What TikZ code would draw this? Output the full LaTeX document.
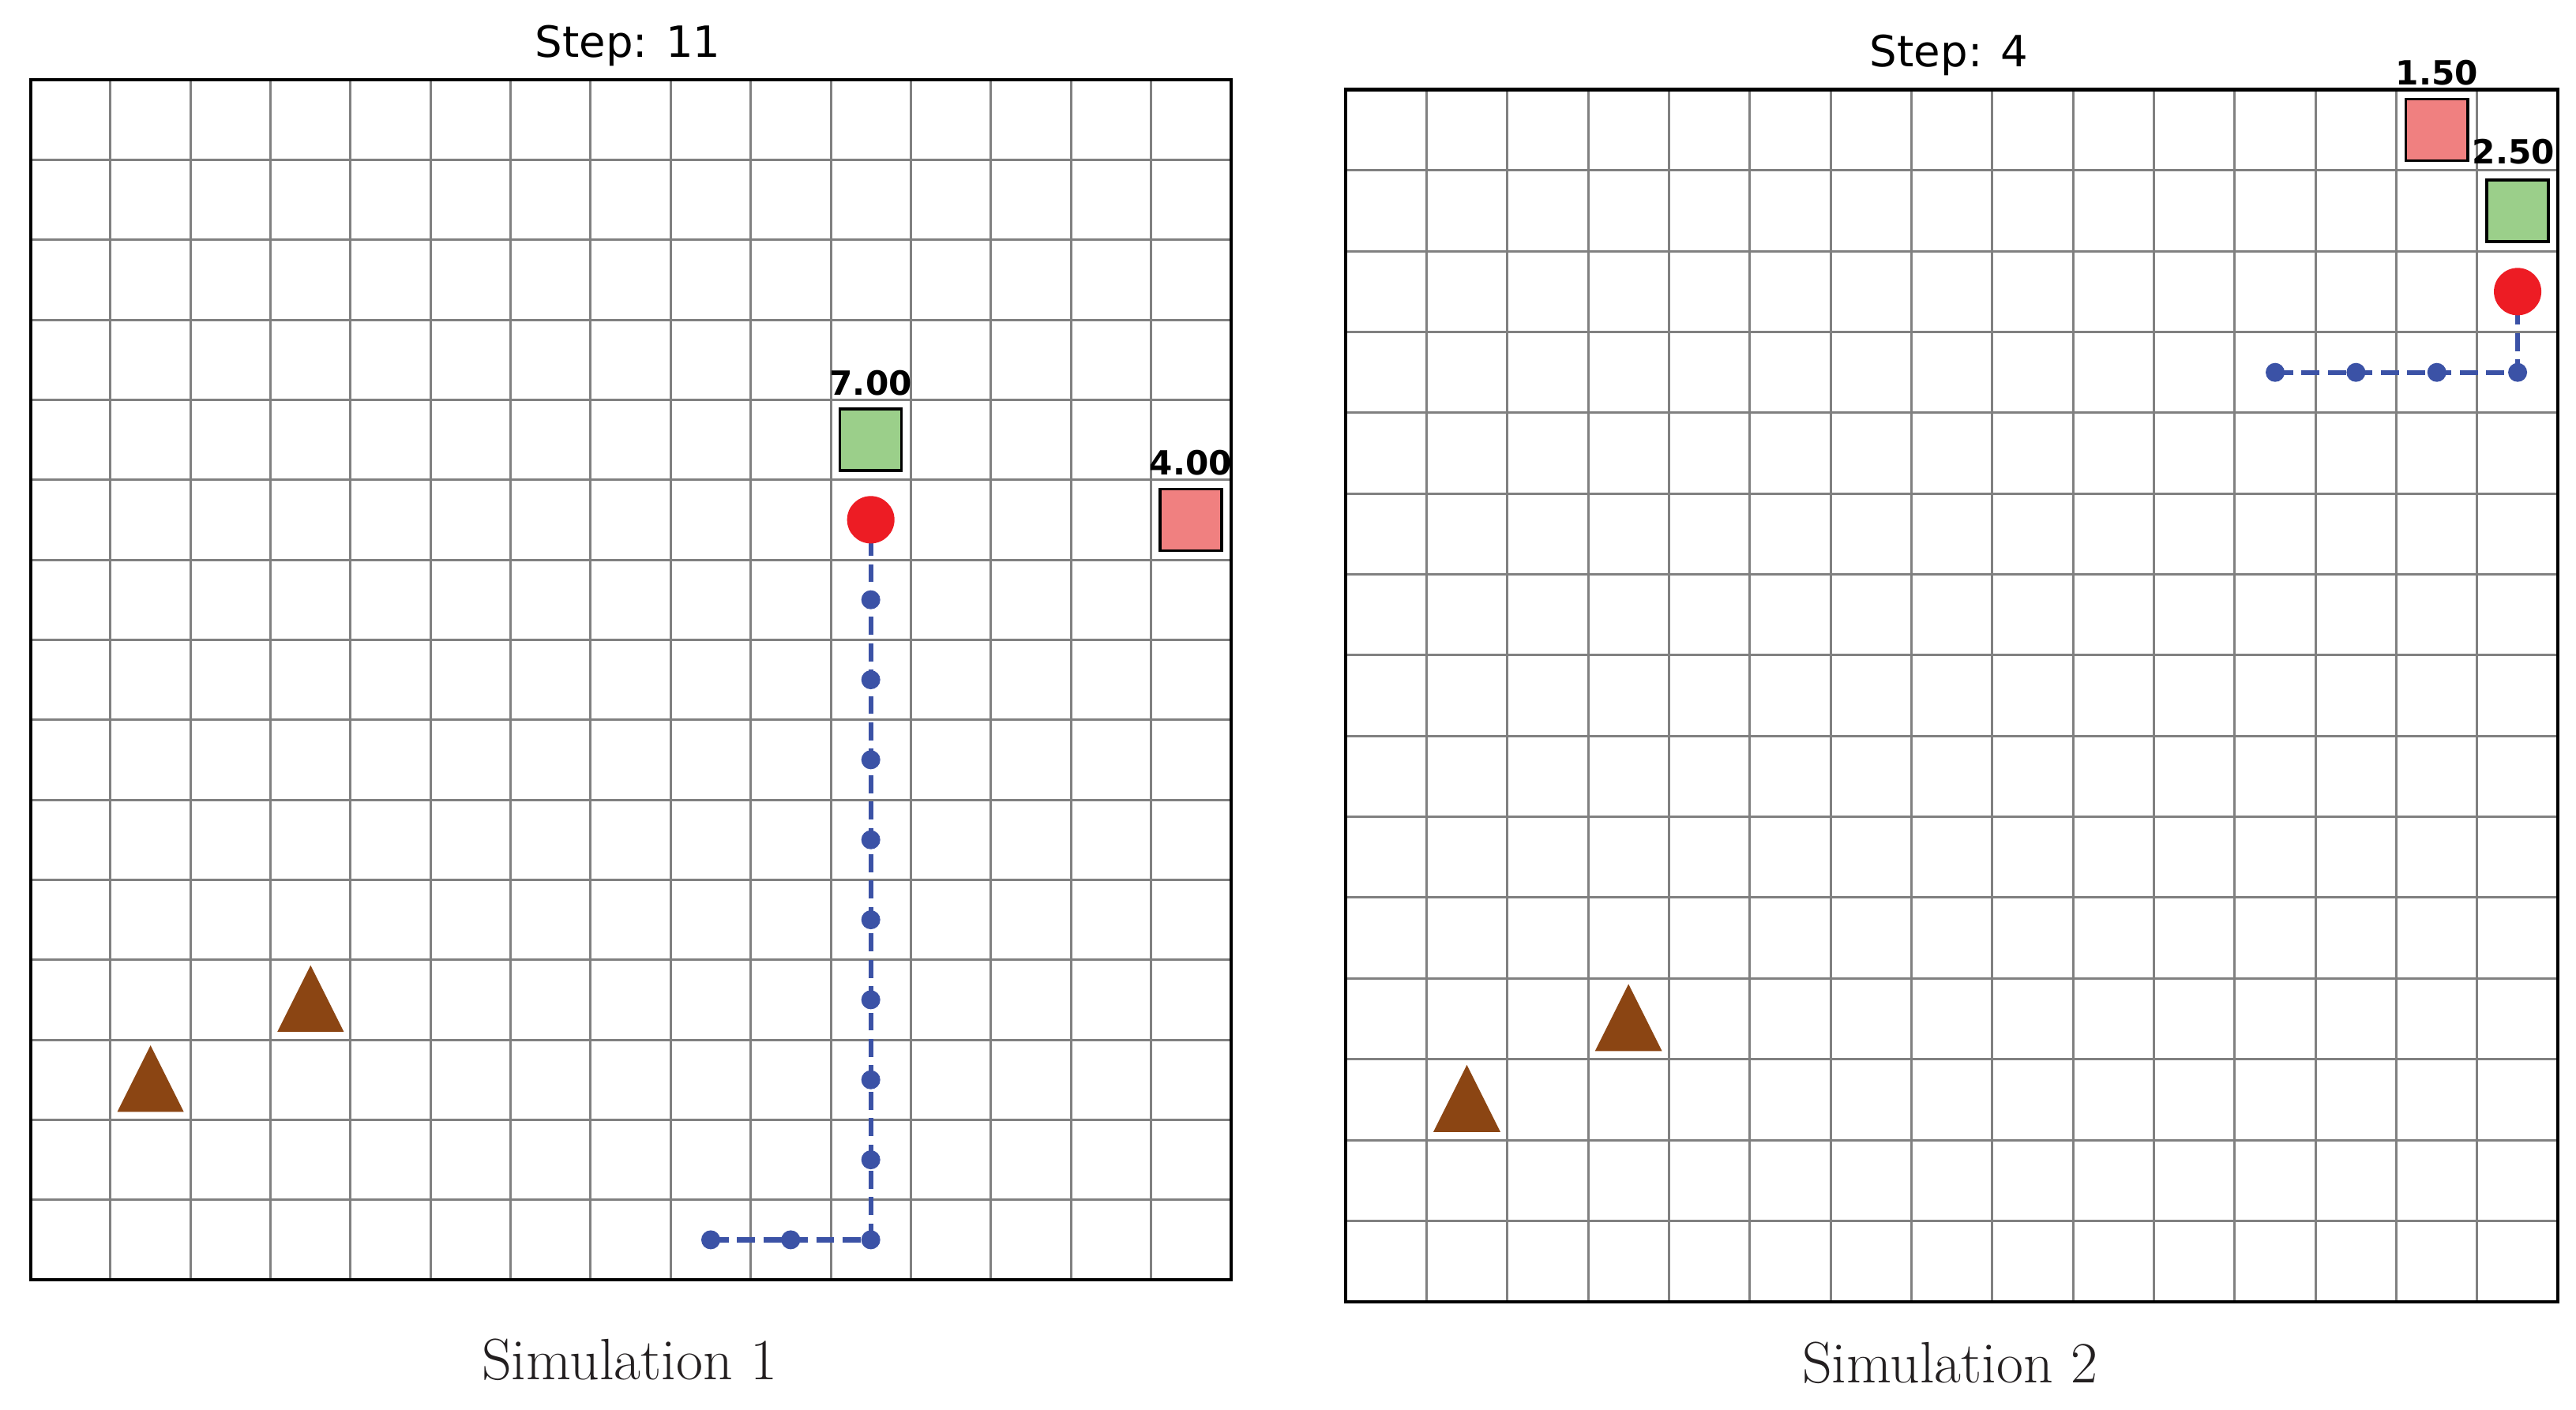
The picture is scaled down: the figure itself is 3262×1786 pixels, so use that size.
\documentclass[tikz,border=0pt]{standalone}
\usepackage{fontspec}
\newfontfamily\dv{DejaVu Sans}
\definecolor{gridgray}{RGB}{128,128,128}
\definecolor{agentred}{RGB}{237,28,36}
\definecolor{pathblue}{RGB}{59,82,166}
\definecolor{goodgreen}{RGB}{155,207,138}
\definecolor{badred}{RGB}{240,128,128}
\definecolor{rockbrown}{RGB}{139,69,19}
\definecolor{captext}{RGB}{35,31,32}
\pgfdeclarelayer{gridlayer}
\pgfdeclarelayer{linelayer}
\pgfsetlayers{gridlayer,linelayer,main}
\tikzset{
  gridline/.style={draw=gridgray, line width=0.85pt},
  border/.style={draw=black, line width=1.15pt},
  agent/.style={circle, fill=agentred, inner sep=0pt, minimum size=0.6cm},
  pathdot/.style={circle, fill=pathblue, inner sep=0pt, minimum size=0.24cm},
  pathline/.style={draw=pathblue, line width=1.8pt, dash pattern=on 6.5pt off 3pt},
  goodbox/.style={rectangle, draw=black, line width=1pt, fill=goodgreen, minimum size=0.78cm, inner sep=0pt},
  badbox/.style={rectangle, draw=black, line width=1pt, fill=badred, minimum size=0.78cm, inner sep=0pt},
  vallabel/.style={font=\dv\bfseries\fontsize{12}{14}\selectfont, anchor=base, inner sep=0pt},
  steptitle/.style={font=\dv\fontsize{15.5}{18}\selectfont, anchor=base, inner sep=0pt},
  simcaption/.style={font=\fontsize{21}{25}\selectfont, text=captext, anchor=base, inner sep=0pt},
  rock/.style={fill=rockbrown},
}
\begin{document}
\begin{tikzpicture}[x=0.01cm, y=-0.01cm]
\useasboundingbox (0,0) rectangle (3262,1786);
\def\Lx{38.6}\def\Ly{101}\def\Lc{101.34}
\def\Rx{1704}\def\Ry{113.5}\def\Rc{102.35}
% ---------- grids ----------
\begin{pgfonlayer}{gridlayer}
\foreach \i in {1,...,14}{
  \draw[gridline] ({\Lx+\i*\Lc},\Ly) -- ({\Lx+\i*\Lc},{\Ly+15*\Lc});
  \draw[gridline] (\Lx,{\Ly+\i*\Lc}) -- ({\Lx+15*\Lc},{\Ly+\i*\Lc});
  \draw[gridline] ({\Rx+\i*\Rc},\Ry) -- ({\Rx+\i*\Rc},{\Ry+15*\Rc});
  \draw[gridline] (\Rx,{\Ry+\i*\Rc}) -- ({\Rx+15*\Rc},{\Ry+\i*\Rc});
}
\draw[border] (\Lx,\Ly) rectangle ({\Lx+15*\Lc},{\Ly+15*\Lc});
\draw[border] (\Rx,\Ry) rectangle ({\Rx+15*\Rc},{\Ry+15*\Rc});
\end{pgfonlayer}
% ---------- titles and captions ----------
\node[steptitle] (t1) at (795,73) {Step: 11};
\node[steptitle] (t2) at (2468,85) {Step: 4};
\node[simcaption] (c1) at (797,1748) {Simulation 1};
\node[simcaption] (c2) at (2469,1752) {Simulation 2};
% ---------- simulation 1 ----------
\foreach \cx/\cy in {1/12,3/11}{
  \fill[rock] ({\Lx+(\cx+0.5)*\Lc},{\Ly+(\cy+0.07)*\Lc}) -- ({\Lx+(\cx+0.085)*\Lc},{\Ly+(\cy+0.9)*\Lc}) -- ({\Lx+(\cx+0.915)*\Lc},{\Ly+(\cy+0.9)*\Lc}) -- cycle;
}
\node[goodbox] (g1) at ({\Lx+10.5*\Lc},{\Ly+4.5*\Lc}) {};
\node[vallabel] (g1l) at ({\Lx+10.5*\Lc},{\Ly+4*\Lc-6}) {7.00};
\node[badbox] (b1) at ({\Lx+14.5*\Lc},{\Ly+5.5*\Lc}) {};
\node[vallabel] (b1l) at ({\Lx+14.5*\Lc},{\Ly+5*\Lc-6}) {4.00};
\node[pathdot] (La) at ({\Lx+8.5*\Lc},{\Ly+14.5*\Lc}) {};
\node[pathdot] (Lb) at ({\Lx+9.5*\Lc},{\Ly+14.5*\Lc}) {};
\foreach \r in {6,...,14}{
  \node[pathdot] (L\r) at ({\Lx+10.5*\Lc},{\Ly+(\r+0.5)*\Lc}) {};
}
\node[agent] (A1) at ({\Lx+10.5*\Lc},{\Ly+5.5*\Lc}) {};
\begin{pgfonlayer}{linelayer}
\draw[pathline] (La.center) -- (Lb.center) -- (L14.center) -- (L13.center) -- (L12.center) -- (L11.center) -- (L10.center) -- (L9.center) -- (L8.center) -- (L7.center) -- (L6.center) -- (A1.center);
\end{pgfonlayer}
% ---------- simulation 2 ----------
\foreach \cx/\cy in {1/12,3/11}{
  \fill[rock] ({\Rx+(\cx+0.5)*\Rc},{\Ry+(\cy+0.07)*\Rc}) -- ({\Rx+(\cx+0.085)*\Rc},{\Ry+(\cy+0.9)*\Rc}) -- ({\Rx+(\cx+0.915)*\Rc},{\Ry+(\cy+0.9)*\Rc}) -- cycle;
}
\node[badbox] (b2) at ({\Rx+13.5*\Rc},{\Ry+0.5*\Rc}) {};
\node[vallabel] (b2l) at ({\Rx+13.5*\Rc},{\Ry-6}) {1.50};
\node[goodbox] (g2) at ({\Rx+14.5*\Rc},{\Ry+1.5*\Rc}) {};
\node[vallabel] (g2l) at ({\Rx+14.45*\Rc},{\Ry+1*\Rc-8}) {2.50};
\foreach \c in {11,...,14}{
  \node[pathdot] (R\c) at ({\Rx+(\c+0.5)*\Rc},{\Ry+3.5*\Rc}) {};
}
\node[agent] (A2) at ({\Rx+14.5*\Rc},{\Ry+2.5*\Rc}) {};
\begin{pgfonlayer}{linelayer}
\draw[pathline] (R11.center) -- (R12.center) -- (R13.center) -- (R14.center) -- (A2.center);
\end{pgfonlayer}
\end{tikzpicture}
\end{document}
